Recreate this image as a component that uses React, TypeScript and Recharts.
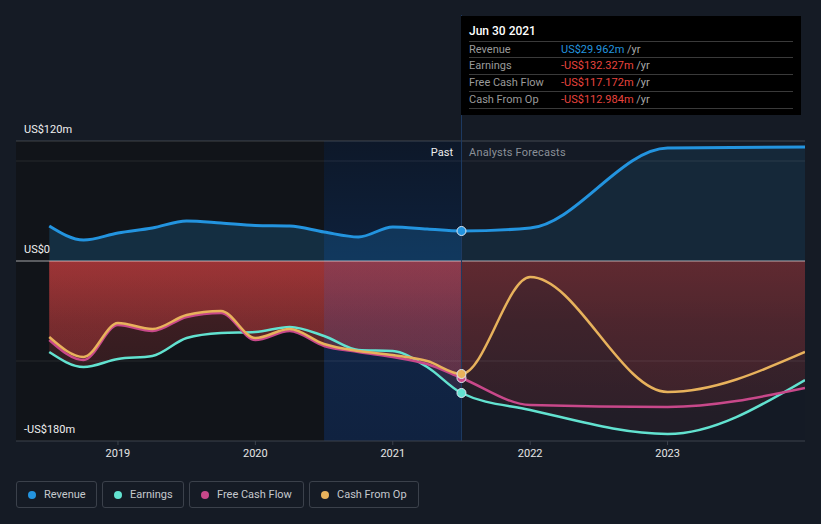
import React from 'react';
import {
  ComposedChart,
  Area,
  Line,
  XAxis,
  YAxis,
  ReferenceArea,
  ReferenceLine,
} from 'recharts';

// quarterly history to Jun 2021, then analyst forecasts
const periods = [2018.5, 2018.75, 2019, 2019.25, 2019.5, 2019.75, 2020, 2020.25, 2020.5, 2020.75, 2021, 2021.25, 2021.5, 2022, 2023, 2024];
const revenue = [35, 21, 28, 33, 40, 38, 35.5, 35, 29, 24, 34, 32, 30, 33, 113, 114];
const earnings = [-91, -106, -98, -95, -77, -72, -71, -66, -75, -89, -90, -106, -132, -149, -173, -119];
const freeCashFlow = [-79, -99, -64, -70, -56, -52, -79, -70, -85, -91, -96, -103, -117, -144, -146, -127];
const cashFromOp = [-76, -96, -62, -68, -54, -50, -77, -68, -83, -90, -94, -100, -113, -16, -131, -91];

const yearTicks = [2019, 2020, 2021, 2022, 2023];
const valueTicks = [120, 0, -180];
const valueLabels: Record<number, string> = { 120: 'US$120m', 0: 'US$0', [-180]: '-US$180m' };
const gridValues = [100, -100];

const NOW = 2021.5;
const X_START = 2018.258;
const X_END = 2024;

const series = [
  { key: 'revenue', name: 'Revenue', color: '#2394df', width: 3 },
  { key: 'earnings', name: 'Earnings', color: '#62e2d0', width: 2.5 },
  { key: 'fcf', name: 'Free Cash Flow', color: '#c8488a', width: 2.5 },
  { key: 'cfo', name: 'Cash From Op', color: '#e8b25c', width: 2.5 },
];

const tooltipRows = [
  { label: 'Revenue', value: 'US$29.962m', color: '#2394df' },
  { label: 'Earnings', value: '-US$132.327m', color: '#e8443e' },
  { label: 'Free Cash Flow', value: '-US$117.172m', color: '#e8443e' },
  { label: 'Cash From Op', value: '-US$112.984m', color: '#e8443e' },
];

const data = periods.map((t, i) => ({
  t,
  revenue: revenue[i],
  earnings: earnings[i],
  fcf: freeCashFlow[i],
  cfo: cashFromOp[i],
}));

const FONT = 'Roboto, "Open Sans", sans-serif';

const markerDot = (color: string) => (props: any) => {
  const { cx, cy, payload, index } = props;
  if (payload.t !== NOW) return <g key={`d-${index}`} />;
  return <circle key={`d-${index}`} cx={cx} cy={cy} r={4.5} fill={color} stroke="#dde6f0" strokeWidth={1} />;
};

// value label sitting just above its horizontal line, at the left edge
const valueLabel = (text: string) => (props: any) => {
  const y = props.viewBox?.y ?? 0;
  return (
    <text x={24} y={y - 12} dy="0.35em" fill="#f0f0f0" fontSize={11} fontFamily={FONT}>
      {text}
    </text>
  );
};

const legendBoxes = [
  { left: 16, width: 81 },
  { left: 102, width: 82 },
  { left: 189, width: 115 },
  { left: 309, width: 110 },
];

export default function App() {
  return (
    <div
      style={{
        position: 'absolute',
        left: 0,
        top: 0,
        width: 821,
        height: 524,
        background: '#151b25',
        fontFamily: FONT,
        overflow: 'hidden',
      }}
    >
      <ComposedChart
        width={821}
        height={524}
        data={data}
        margin={{ top: 15, right: 16, bottom: 53, left: 16 }}
      >
        <defs>
          <linearGradient id="negFill" gradientUnits="userSpaceOnUse" x1="0" y1="261" x2="0" y2="441">
            <stop offset="0" stopColor="#e64545" stopOpacity={0.3} />
            <stop offset="0.35" stopColor="#e64545" stopOpacity={0.2} />
            <stop offset="1" stopColor="#e64545" stopOpacity={0.1} />
          </linearGradient>
          <linearGradient id="bandFill" gradientUnits="userSpaceOnUse" x1="0" y1="141" x2="0" y2="441">
            <stop offset="0" stopColor="#0d1829" />
            <stop offset="0.4" stopColor="#0d213d" />
            <stop offset="1" stopColor="#0c1c34" />
          </linearGradient>
        </defs>
        <XAxis
          dataKey="t"
          type="number"
          domain={[X_START, X_END]}
          ticks={yearTicks}
          allowDataOverflow
          height={30}
          tickSize={4}
          tickMargin={4}
          axisLine={{ stroke: '#3c424c' }}
          tickLine={{ stroke: '#3c424c' }}
          tick={{ fill: '#e6e6e6', fontSize: 11, fontFamily: FONT }}
        />
        <YAxis type="number" domain={[-180, 246]} allowDataOverflow hide />

        {/* background shading: older history and last-year band */}
        <ReferenceArea x1={X_START} x2={2020.5} y1={-180} y2={120} fill="#111419" fillOpacity={1} stroke="none" zIndex={-60} />
        <ReferenceArea x1={2020.5} x2={NOW} y1={-180} y2={120} fill="url(#bandFill)" fillOpacity={1} stroke="none" zIndex={-50} />

        <Area
          dataKey="revenue"
          type="monotone"
          baseValue={0}
          stroke="none"
          fill="#2394df"
          fillOpacity={0.2}
          isAnimationActive={false}
        />
        {['earnings', 'fcf', 'cfo'].map((k) => (
          <Area
            key={`a-${k}`}
            dataKey={k}
            type="monotone"
            baseValue={0}
            stroke="none"
            fill="url(#negFill)"
            fillOpacity={1}
            isAnimationActive={false}
          />
        ))}

        <ReferenceArea x1={2020.5} x2={NOW} y1={-180} y2={0} fill="#3050a0" fillOpacity={0.12} stroke="none" zIndex={150} />
        <ReferenceArea x1={NOW} x2={X_END} y1={-180} y2={120} fill="#151b25" fillOpacity={0.45} stroke="none" zIndex={160} />

        {gridValues.map((v) => (
          <ReferenceLine key={`g-${v}`} y={v} stroke="#ffffff" strokeOpacity={0.09} zIndex={170} />
        ))}
        <ReferenceLine y={valueTicks[0]} stroke="#ffffff" strokeOpacity={0.2} zIndex={170} label={valueLabel(valueLabels[valueTicks[0]])} />
        <ReferenceLine y={valueTicks[1]} stroke="#ffffff" strokeOpacity={0.62} strokeWidth={1.2} zIndex={175} label={valueLabel(valueLabels[valueTicks[1]])} />
        <ReferenceLine y={valueTicks[2]} stroke="none" zIndex={170} label={valueLabel(valueLabels[valueTicks[2]])} />
        <ReferenceLine x={NOW} stroke="#1e3b62" strokeWidth={1} zIndex={180} />

        {series.map((s) => (
          <Line
            key={`l-${s.key}`}
            dataKey={s.key}
            type="monotone"
            stroke={s.color}
            strokeWidth={s.width}
            dot={markerDot(s.color)}
            activeDot={false}
            isAnimationActive={false}
          />
        ))}
      </ComposedChart>

      {/* period labels */}
      <div style={{ position: 'absolute', right: 821 - 453, top: 146, fontSize: 11, color: '#eeeeee', lineHeight: '14px' }}>
        Past
      </div>
      <div style={{ position: 'absolute', left: 469, top: 146, fontSize: 11, color: '#8b9098', lineHeight: '14px', letterSpacing: 0.2 }}>
        Analysts Forecasts
      </div>

      {/* hover box at Jun 30 2021 */}
      <div style={{ position: 'absolute', left: 461, top: 16, width: 340, height: 99, background: '#000000' }}>
        <div style={{ position: 'absolute', left: 8, top: 8, fontSize: 12, color: '#ffffff', lineHeight: '15px', fontWeight: 500 }}>
          Jun 30 2021
        </div>
        {[24.5, 41.3, 58.2, 75, 92.2].map((y) => (
          <div key={`sep-${y}`} style={{ position: 'absolute', left: 8, top: y, width: 324, height: 1, background: '#3a3a3a' }} />
        ))}
        {tooltipRows.map((r, i) => (
          <div
            key={r.label}
            style={{ position: 'absolute', left: 8, top: 25.5 + i * 16.9, height: 16, lineHeight: '16px', fontSize: 11, width: 330 }}
          >
            <span style={{ color: '#9a9a9a' }}>{r.label}</span>
            <span style={{ position: 'absolute', left: 92, whiteSpace: 'nowrap' }}>
              <span style={{ color: r.color }}>{r.value}</span>
              <span style={{ color: '#a8a8a8' }}> /yr</span>
            </span>
          </div>
        ))}
      </div>

      {/* legend */}
      {series.map((s, i) => (
        <div
          key={`lg-${s.key}`}
          style={{
            position: 'absolute',
            left: legendBoxes[i].left,
            top: 481,
            width: legendBoxes[i].width,
            height: 27,
            boxSizing: 'border-box',
            border: '1px solid #3b414b',
            borderRadius: 3,
            display: 'flex',
            alignItems: 'center',
            paddingLeft: 11,
          }}
        >
          <span style={{ width: 8, height: 8, borderRadius: 4, background: s.color, marginRight: 8, flex: 'none' }} />
          <span style={{ fontSize: 11, color: '#c5c9ce', whiteSpace: 'nowrap' }}>{s.name}</span>
        </div>
      ))}
    </div>
  );
}
